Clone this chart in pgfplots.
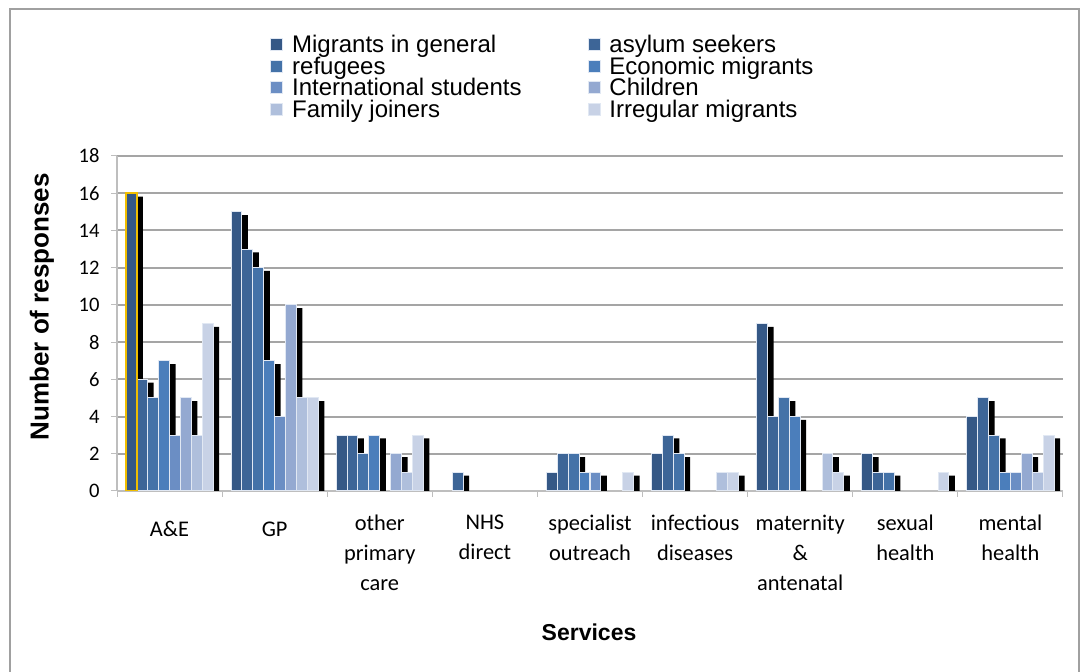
\documentclass[border=0pt]{standalone}
\usepackage{fontspec}
\setmainfont{Liberation Sans}
\newfontfamily\calfont{Carlito}
\usepackage{pgfplots}
\usepackage{pgfplotstable}
\pgfplotsset{compat=1.18}

\definecolor{cMig}{RGB}{53,88,134}
\definecolor{cAsy}{RGB}{61,101,151}
\definecolor{cRef}{RGB}{68,114,168}
\definecolor{cEco}{RGB}{75,126,187}
\definecolor{cInt}{RGB}{107,142,196}
\definecolor{cChi}{RGB}{148,169,209}
\definecolor{cFam}{RGB}{175,191,220}
\definecolor{cIrr}{RGB}{200,210,230}
\definecolor{barEdge}{RGB}{225,232,243}
\definecolor{gridGray}{RGB}{165,165,165}
\definecolor{axisGray}{RGB}{190,190,190}
\definecolor{frameGray}{RGB}{160,160,160}
\definecolor{selGold}{RGB}{240,190,0}

% responses per service (x = service index) and migrant group
\pgfplotstableread{
x mig asy ref eco int chi fam irr
0 16 6  5  7 3 5  3 9
1 15 13 12 7 4 10 5 5
2 3  3  2  3 0 2  1 3
3 0  1  0  0 0 0  0 0
4 1  2  2  1 1 0  0 1
5 2  3  2  0 0 0  1 1
6 9  4  5  4 0 0  2 1
7 2  1  1  0 0 0  0 1
8 4  5  3  1 1 2  1 3
}\services

\pgfplotsset{
  shadowbar/.style={ybar, bar width=0.1037, bar shift=#1, fill=black,
    draw=none, yshift=-1.65pt, forget plot},
  colbar/.style 2 args={ybar, bar width=0.1037, bar shift=#1, fill=#2,
    draw=barEdge, line width=0.5pt},
}

\begin{document}
\begin{tikzpicture}
\useasboundingbox (0,0) rectangle (542.5pt,336pt);
% chart frame
\draw[frameGray, line width=1pt] (5pt,-2pt) -- (5pt,331.5pt) -- (539.5pt,331.5pt) -- (539.5pt,-2pt);
\begin{axis}[
  at={(58.5pt,90.5pt)}, anchor=south west,
  scale only axis, width=473pt, height=167.5pt,
  xmin=-0.5, xmax=8.5, ymin=0, ymax=18,
  restrict y to domain=0.01:100,
  axis x line*=bottom, axis y line*=left,
  axis line style={axisGray, line width=1pt, -},
  ytick={0,2,...,18},
  xtick={0,...,8},
  xticklabels={A\&E, GP, other\\primary\\care, NHS\\direct, specialist\\outreach,
    infectious\\diseases, maternity\\\&\\antenatal, sexual\\health, mental\\health},
  minor xtick={-0.5,0.5,...,8.5},
  major x tick style={draw=none},
  tick align=outside,
  major tick length=3pt, minor tick length=3pt,
  tick style={axisGray, line width=0.5pt},
  ymajorgrids, grid style={gridGray, line width=1pt},
  /pgf/number format/assume math mode=true,
  yticklabel style={font=\calfont\fontsize{10.3}{10}\selectfont, anchor=east,
    inner sep=0pt, xshift=-5.5pt},
  xticklabel style={font=\calfont\fontsize{11.2}{15}\selectfont\strut, align=center,
    anchor=north, inner sep=0pt, yshift=-9pt},
  ylabel={\bfseries Number of responses},
  ylabel style={font=\fontsize{13}{13}\selectfont, anchor=center, rotate=0,
    at={(axis description cs:-0.0793,0.55)}},
  xlabel={\bfseries Services},
  xlabel style={font=\fontsize{11.5}{12}\selectfont, anchor=center,
    at={(axis description cs:0.499,-0.421)}},
  legend columns=2,
  legend cell align=left,
  legend image code/.code={\draw[#1, draw=barEdge, line width=0.4pt] (0pt,-1.5pt) rectangle (6pt,4.5pt);},
  legend style={draw=none, fill=none, at={(axis description cs:0.1617,1.3582)},
    anchor=north west, inner sep=0pt, font=\fontsize{12}{12}\selectfont,
    row sep=-0.5pt,
    nodes={inner sep=0pt, text height=8.25pt, text depth=3pt},
    /tikz/column 1/.style={column sep=4.5pt},
    /tikz/column 2/.style={column sep=33pt},
    /tikz/column 3/.style={column sep=4.5pt}},
]
% drop shadows behind the bars
\addplot[shadowbar=-0.3060] table[x=x, y=mig] {\services};
\addplot[shadowbar=-0.2023] table[x=x, y=asy] {\services};
\addplot[shadowbar=-0.0986] table[x=x, y=ref] {\services};
\addplot[shadowbar=0.0051]  table[x=x, y=eco] {\services};
\addplot[shadowbar=0.1089]  table[x=x, y=int] {\services};
\addplot[shadowbar=0.2126]  table[x=x, y=chi] {\services};
\addplot[shadowbar=0.3163]  table[x=x, y=fam] {\services};
\addplot[shadowbar=0.4200]  table[x=x, y=irr] {\services};
% bars
\addplot[colbar={-0.3630}{cMig}] table[x=x, y=mig] {\services};
\addlegendentry{Migrants in general}
\addplot[colbar={-0.2593}{cAsy}] table[x=x, y=asy] {\services};
\addlegendentry{asylum seekers}
\addplot[colbar={-0.1556}{cRef}] table[x=x, y=ref] {\services};
\addlegendentry{refugees}
\addplot[colbar={-0.0519}{cEco}] table[x=x, y=eco] {\services};
\addlegendentry{Economic migrants}
\addplot[colbar={0.0519}{cInt}] table[x=x, y=int] {\services};
\addlegendentry{International students}
\addplot[colbar={0.1556}{cChi}] table[x=x, y=chi] {\services};
\addlegendentry{Children}
\addplot[colbar={0.2593}{cFam}] table[x=x, y=fam] {\services};
\addlegendentry{Family joiners}
\addplot[colbar={0.3630}{cIrr}] table[x=x, y=irr] {\services};
\addlegendentry{Irregular migrants}
% selected data point outline
\addplot[ybar, bar width=0.1037, bar shift=-0.3630, fill=none, draw=selGold,
  line width=1.2pt, forget plot] coordinates {(0,16)};
\end{axis}
\end{tikzpicture}
\end{document}
